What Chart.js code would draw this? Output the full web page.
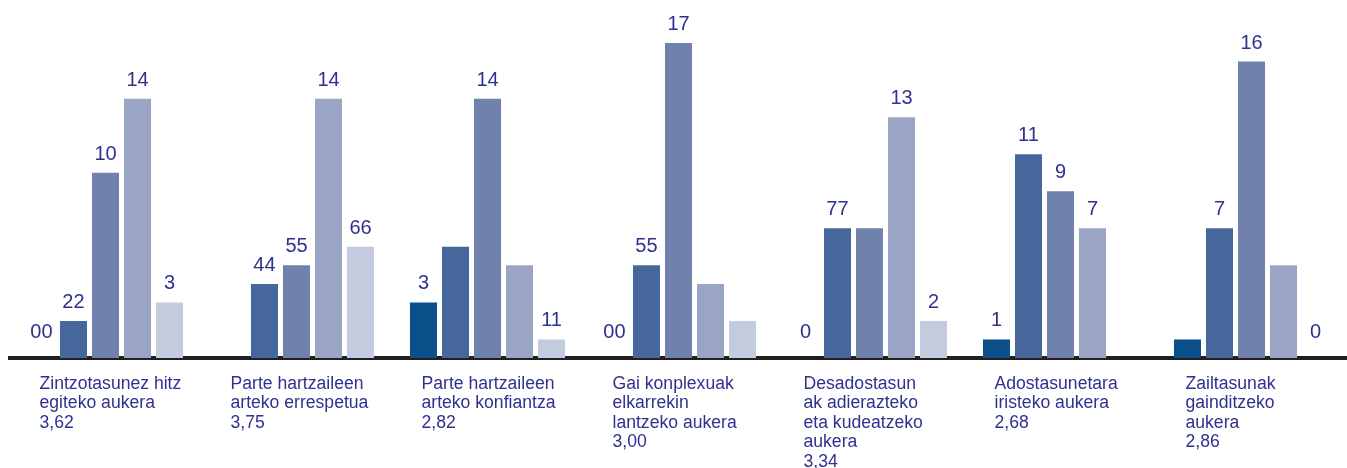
<!DOCTYPE html>
<html>
<head>
<meta charset="utf-8">
<script src="https://cdn.jsdelivr.net/npm/chart.js@4.4.1/dist/chart.umd.min.js"></script>
<style>
html, body { margin: 0; padding: 0; background: #fff; }
#wrap { width: 1347px; height: 468px; position: relative; }
</style>
</head>
<body>
<div id="wrap"><canvas id="chart"></canvas></div>
<script>
// category names (split in lines as in the original) and mean scores
var categories = [
    ['Zintzotasunez hitz', 'egiteko aukera'],
    ['Parte hartzaileen', 'arteko errespetua'],
    ['Parte hartzaileen', 'arteko konfiantza'],
    ['Gai konplexuak', 'elkarrekin', 'lantzeko aukera'],
    ['Desadostasun', 'ak adierazteko', 'eta kudeatzeko', 'aukera'],
    ['Adostasunetara', 'iristeko aukera'],
    ['Zailtasunak', 'gainditzeko', 'aukera']
];
var means = ['3,62', '3,75', '2,82', '3,00', '3,34', '2,68', '2,86'];

// answers 1..5 per category
var answer1 = [0, 0, 3, 0, 0, 1, 1];
var answer2 = [2, 4, 6, 5, 7, 11, 7];
var answer3 = [10, 5, 14, 17, 7, 9, 16];
var answer4 = [14, 14, 5, 4, 13, 7, 5];
var answer5 = [3, 6, 1, 2, 2, 0, 0];

// the labels printed above the bars, as they appear
var labels1 = ['00', '', '3', '00', '0', '1', ''];
var labels2 = ['22', '44', '', '55', '77', '11', '7'];
var labels3 = ['10', '55', '14', '17', '', '9', '16'];
var labels4 = ['14', '14', '', '', '13', '7', ''];
var labels5 = ['3', '66', '11', '', '2', '', '0'];

var colors = ['#0b4f8b', '#46679b', '#7081ad', '#9aa5c6', '#c5cbde'];
var textColor = '#2f3190';
var fontName = '"Liberation Sans", Arial, sans-serif';

var series = [answer1, answer2, answer3, answer4, answer5];
var seriesLabels = [labels1, labels2, labels3, labels4, labels5];
var datasets = [];
for (var s = 0; s < series.length; s++) {
    datasets.push({
        label: '' + (s + 1),
        data: series[s],
        valueLabels: seriesLabels[s],
        backgroundColor: colors[s],
        borderWidth: 0,
        categoryPercentage: 0.838,
        barPercentage: 0.844
    });
}

var tickLabels = categories.map(function(lines, i) {
    return lines.concat([means[i]]);
});

// draws the numbers over the bars
var valueLabels = {
    id: 'valueLabels',
    afterDatasetsDraw: function(chart) {
        var ctx = chart.ctx;
        ctx.save();
        ctx.font = '20px ' + fontName;
        ctx.fillStyle = textColor;
        ctx.textAlign = 'center';
        ctx.textBaseline = 'alphabetic';
        chart.data.datasets.forEach(function(ds, i) {
            var meta = chart.getDatasetMeta(i);
            meta.data.forEach(function(bar, j) {
                var txt = ds.valueLabels[j];
                if (!txt) return;
                var gap = ds.data[j] === 0 ? 20 : 13;
                ctx.fillText(txt, bar.x, bar.y - gap);
            });
        });
        ctx.restore();
    }
};

new Chart(document.getElementById('chart'), {
    type: 'bar',
    data: {
        labels: tickLabels,
        datasets: datasets
    },
    options: {
        responsive: true,
        maintainAspectRatio: false,
        animation: false,
        devicePixelRatio: 1,
        layout: { padding: { top: 6, left: 10, right: 0, bottom: 0 } },
        plugins: {
            legend: { display: false },
            tooltip: { enabled: false }
        },
        scales: {
            x: {
                z: 1,
                grid: { display: false, drawTicks: false },
                border: { display: true, color: '#231f20', width: 4 },
                ticks: {
                    color: textColor,
                    font: { family: fontName, size: 17.6, lineHeight: 1.11 },
                    align: 'start',
                    labelOffset: -66,
                    padding: 16,
                    maxRotation: 0,
                    autoSkip: false
                },
                afterFit: function(scale) {
                    scale.height = 110;
                    scale.paddingLeft = 0;
                    scale.paddingRight = 0;
                }
            },
            y: {
                display: false,
                min: 0,
                max: 19
            }
        }
    },
    plugins: [valueLabels]
});
</script>
</body>
</html>
